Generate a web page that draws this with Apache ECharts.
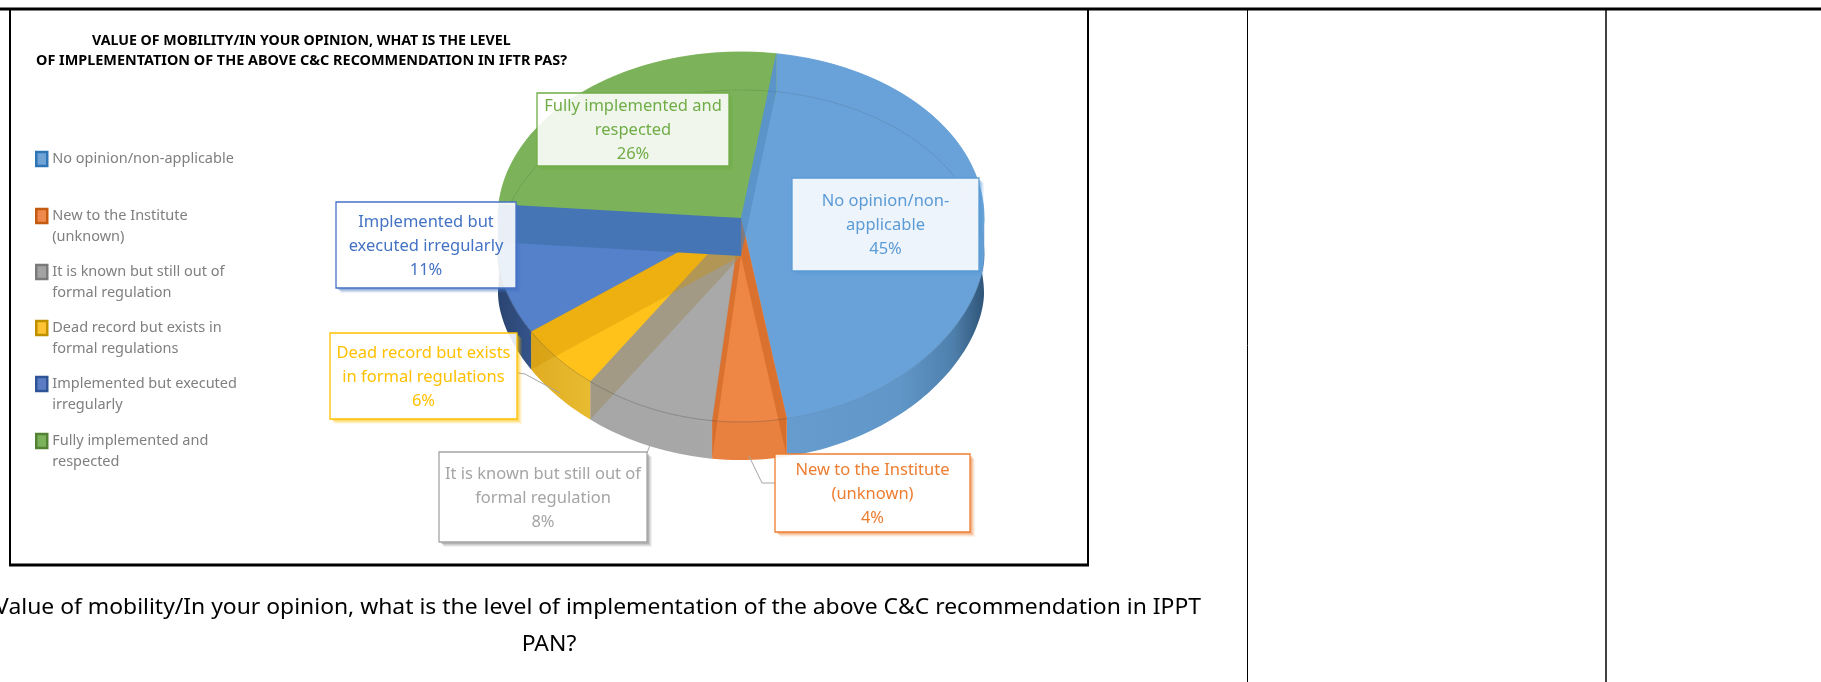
<!DOCTYPE html>
<html><head><meta charset="utf-8">
<style>html,body{margin:0;padding:0;background:#fff}#c{width:1821px;height:682px}</style>
<script src="https://cdn.jsdelivr.net/npm/echarts@6/dist/echarts.min.js"></script>
</head><body><div id="c"></div>
<script>
const categories = ['No opinion/non-applicable','New to the Institute (unknown)','It is known but still out of formal regulation','Dead record but exists in formal regulations','Implemented but executed irregularly','Fully implemented and respected'];
const percents = [45,4,8,6,11,26];
const legendLines = [['No opinion/non-applicable'],['New to the Institute','(unknown)'],['It is known but still out of','formal regulation'],['Dead record but exists in','formal regulations'],['Implemented but executed','irregularly'],['Fully implemented and','respected']];
const labelLines = [['No opinion/non-','applicable'],['New to the Institute','(unknown)'],['It is known but still out of','formal regulation'],['Dead record but exists','in formal regulations'],['Implemented but','executed irregularly'],['Fully implemented and','respected']];
const titleLines = ['VALUE OF MOBILITY/IN YOUR OPINION, WHAT IS THE LEVEL','OF IMPLEMENTATION OF THE ABOVE C&C RECOMMENDATION IN IFTR PAS?'];
const captionLines = ['Value of mobility/In your opinion, what is the level of implementation of the above C&C recommendation in IPPT','PAN?'];

// styles and layout
const FONT = '"Noto Sans", sans-serif';
const pie = {cx:741, cy:218, rx:243, ry:166, step:38, start:8.3};
const main = ['#69a2d8','#ee8745','#a9a9a9','#ffc21a','#5580ca','#7cb35a'];
const border = ['#5b9bd5','#ed7d31','#a5a5a5','#ffc000','#4472c4','#70ad47'];
const swatch = ['#6fa3d6','#ee8a4e','#a3a3a3','#ffc433','#5b7cc4','#7cb35a'];
const swatchEdge = ['#2e75b6','#c55a11','#7b7b7b','#bf9000','#2f5597','#548235'];
const shadowRGB = ['91,155,213','237,125,49','120,120,120','255,192,0','68,114,196','112,173,71'];
const sideStops = [
  [[0,'#679cce'],[0.6,'#6096c8'],[0.85,'#4f80ad'],[1,'#2f5578']],
  [[0,'#e8813f'],[1,'#e8813f']],
  [[0,'#a6a6a6'],[1,'#a8a8a8']],
  [[0,'#e0ac22'],[1,'#e8bb30']],
  [[0,'#2a4470'],[1,'#34548a']],
  [[0,'#5f8c43'],[1,'#5f8c43']]
];
const boxes = [[792,178,187,93],[775,454,195,78],[439,452,208,90],[330,333,187,86],[336,202,180,86],[537,93,192,73]];
const leaders = [null,[[775,483],[762,483],[749,456]],[[647,453],[650,445]],[[518,373],[525,374],[560,393]],null,null];
const legendCenters = [159,216,272,328,384,441];
const LH = 21;

// perspective: the near part of the disc is seen slightly distorted
const warp = deg => {
  if (deg>130 && deg<180) return deg - 2*Math.sin(Math.PI*(deg-130)/50);
  if (deg>170 && deg<275) return deg + 5*Math.sin(Math.PI*(deg-170)/105);
  return deg;
};
const pt = (deg, off) => {
  const t = warp(deg)*Math.PI/180, c = Math.cos(t);
  const dy = c>=0 ? pie.ry*c : -pie.ry*Math.pow(-c,1.15);
  return [pie.cx + pie.rx*Math.sin(t), pie.cy + off - dy];
};
const arc = (a, b, off) => {
  const n = Math.max(2, Math.ceil(Math.abs(b-a)/1.5)), out = [];
  for (let i=0;i<=n;i++) out.push(pt(a+(b-a)*i/n, off));
  return out;
};
const sector = (a,b,off) => [[pie.cx,pie.cy]].concat(arc(a,b,off));
const strip = (a,b,o1,o2) => arc(a,b,o1).concat(arc(a,b,o2).reverse());
const poly = (points, fill, z2) => ({type:'polygon', z2, shape:{points}, style:{fill, stroke:fill, lineWidth:0.5}});

function renderSlice(params, api) {
  const i = params.seriesIndex;
  const a = pie.start + api.value(0)*3.6;
  const b = a + api.value(1)*3.6;
  const d = pie.step;
  const A = [pie.cx,pie.cy], A2 = [pie.cx,pie.cy+d];
  const kids = [
    poly(sector(a,b,0), main[i], 1),
    poly(strip(a,b,0,d), main[i], 1),
    {type:'polygon', z2:1, shape:{points:strip(a,b,d,2*d)},
      style:{fill:{type:'linear',x:0,y:0,x2:1,y2:0,colorStops:sideStops[i].map(s=>({offset:s[0],color:s[1]}))}}},
    poly(sector(a,b,d), main[i], 2)
  ];
  // close the silhouette where the disc's widest points shift downward
  [90,270].forEach(deg=>{
    if (a<deg && b>deg) kids.push(poly([pt(deg-25,0),pt(deg,0),pt(deg,d),pt(deg+(deg===90?25:-25),0)], main[i], 2));
  });
  // inner walls of the slices, seen through the translucent disc
  const backWall = (deg,color) => ({type:'polygon', z2:3, shape:{points:[A,pt(deg,0),pt(deg,d),A2]}, style:{fill:color}});
  const frontWall = (deg,color) => ({type:'polygon', z2:3, shape:{points:[A,pt(deg,d),pt(deg,2*d),A2]}, style:{fill:color}});
  if (i===0) kids.push(backWall(a,'#5a94c8'));
  if (i===1) { kids.push(frontWall(a,'rgba(190,80,10,0.38)')); kids.push(frontWall(b,'rgba(190,80,10,0.38)')); }
  if (i===2) kids.push(frontWall(b,'rgba(160,145,110,0.6)'));
  if (i===3) kids.push(frontWall(b,'rgba(205,145,0,0.36)'));
  if (i===4) kids.push(backWall(b,'#4575b5'));
  // rim of the upper face
  kids.push({type:'polyline', z2:4, shape:{points:arc(a,b,d)}, style:{fill:'none', stroke:'rgba(60,60,60,'+(i===5||i===0?0.12:0.3)+')', lineWidth:1}});
  if (leaders[i]) kids.push({type:'polyline', z2:6, shape:{points:leaders[i]}, style:{fill:'none', stroke:'#a6a6a6', lineWidth:1}});
  // label box with soft offset shadow
  const B = boxes[i], x0=B[0], y0=B[1], x1=B[0]+B[2], y1=B[1]+B[3];
  [[5,0.10],[4,0.14],[3,0.2],[2,0.28]].forEach((s,k)=>{
    const o=s[0];
    kids.push({type:'polygon', z2:7+k*0.1, shape:{points:[[x1,y0+o],[x1+o,y0+o],[x1+o,y1+o],[x0+o,y1+o],[x0+o,y1],[x1,y1]]},
      style:{fill:'rgba('+shadowRGB[i]+','+s[1]+')'}});
  });
  kids.push({type:'rect', z2:10, shape:{x:x0,y:y0,width:B[2],height:B[3]},
    style:{fill:'rgba(255,255,255,0.885)', stroke:border[i], lineWidth:1.3}});
  kids.push({type:'text', z2:11, style:{
    text: labelLines[i].concat([percents[i]+'%']).join('\n'),
    x:x0+B[2]/2, y:y0+B[3]/2+1, align:'center', verticalAlign:'middle',
    fill:border[i], fontFamily:FONT, fontSize:16.5, lineHeight:24}});
  return {type:'group', children:kids};
}

let running = 0;
const series = categories.map((name,i)=>{
  const s = {type:'custom', name, coordinateSystem:'none', renderItem:renderSlice, silent:true,
    animation:false, itemStyle:{color:swatch[i]}, data:[[running, percents[i]]], clip:false};
  running += percents[i];
  return s;
});

const legend = categories.map((name,i)=>{
  const lines = legendLines[i];
  const two = lines.length>1;
  return {data:[{name, icon:'rect', itemStyle:{color:swatch[i], borderColor:swatchEdge[i], borderWidth:2.5}}],
    left:35, top: legendCenters[i] - (two ? 1.5*LH : 0.5*LH), padding:0, itemWidth:11, itemHeight:14,
    selectedMode:false,
    formatter:()=> (two ? ' \n' : '') + lines.join('\n'),
    textStyle:{color:'#7f7f7f', fontFamily:FONT, fontSize:14.5, lineHeight:LH}};
});

const lineEl = (x1,y1,x2,y2,w)=>({type:'line', shape:{x1,y1,x2,y2}, style:{stroke:'#000', lineWidth:w}, silent:true});
const graphic = [
  lineEl(0,9,1821,9,3),
  lineEl(10,9,10,566,2),
  lineEl(1088,9,1088,566,2),
  lineEl(9,565,1089,565,3),
  lineEl(1247.5,9,1247.5,682,1),
  lineEl(1606,9,1606,682,1.5),
  {type:'text', silent:true, scaleX:1.09, originX:1201, originY:608, style:{text:captionLines[0], x:1201, y:608, align:'right', verticalAlign:'middle', fill:'#000', fontFamily:FONT, fontSize:21}},
  {type:'text', silent:true, scaleX:1.09, originX:549, originY:645, style:{text:captionLines[1], x:549, y:645, align:'center', verticalAlign:'middle', fill:'#000', fontFamily:FONT, fontSize:21}},
  {type:'text', silent:true, style:{text:titleLines[0], x:92, y:41, align:'left', verticalAlign:'middle', fill:'#000', fontFamily:FONT, fontSize:14.2, fontWeight:'bold'}},
  {type:'text', silent:true, scaleX:1.016, originX:36, originY:61, style:{text:titleLines[1], x:36, y:61, align:'left', verticalAlign:'middle', fill:'#000', fontFamily:FONT, fontSize:14.2, fontWeight:'bold'}}
];

const chart = echarts.init(document.getElementById('c'), null, {renderer:'canvas'});
chart.setOption({animation:false, backgroundColor:'#fff', legend, series, graphic});
</script></body></html>
